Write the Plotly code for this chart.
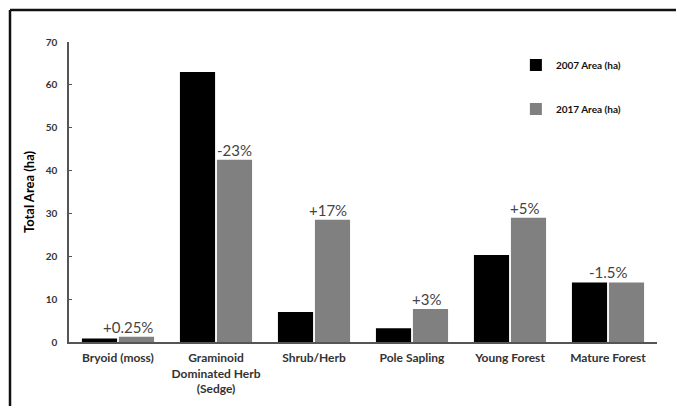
import plotly.graph_objects as go

categories = ["Bryoid (moss)", "Graminoid<br>Dominated Herb<br>(Sedge)", "Shrub/Herb",
              "Pole Sapling", "Young Forest", "Mature Forest"]
area_2007 = [0.8, 63.0, 7.0, 3.2, 20.3, 13.9]
area_2017 = [1.2, 42.5, 28.5, 7.7, 29.0, 13.9]
change_labels = ["+0.25%", "-23%", "+17%", "+3%", "+5%", "-1.5%"]
label_xshift = [10, 18, 14, 14, 14, 0]

FONT = "Lato"

fig = go.Figure()
fig.add_trace(go.Bar(x=categories, y=area_2007, name="2007 Area (ha)",
                     marker=dict(color="#000000", line=dict(width=0)),
                     legendgroup="a"))
fig.add_trace(go.Bar(x=categories, y=area_2017, name="2017 Area (ha)",
                     marker=dict(color="#808080", line=dict(width=0)),
                     legendgroup="b"))

for cat, v17, lab, xs in zip(categories, area_2017, change_labels, label_xshift):
    fig.add_annotation(x=cat, y=v17, text=lab, showarrow=False,
                       xref="x", yref="y", yanchor="bottom", xshift=xs, yshift=-1,
                       font=dict(family=FONT, size=15, color="#444444"))

fig.update_layout(
    width=676, height=406,
    margin=dict(l=69, r=19, t=42, b=64, autoexpand=False),
    paper_bgcolor="white", plot_bgcolor="white",
    barmode="group", bargap=0.245, bargroupgap=0.05,
    font=dict(family=FONT, color="#333333"),
    legend=dict(x=0.76, y=0.972, xanchor="left", yanchor="top",
                tracegroupgap=25, bgcolor="rgba(0,0,0,0)",
                font=dict(family=FONT, size=10, color="#111111", weight="bold")),
    xaxis=dict(showline=True, linecolor="#555555", linewidth=1.5, ticks="",
               tickfont=dict(family=FONT, size=12, color="#333333", weight="bold"),
               ticklabelstandoff=4, showgrid=False),
    yaxis=dict(range=[0, 70], dtick=10, showline=True, linecolor="#555555", linewidth=1.5,
               ticks="inside", ticklen=3, tickcolor="#555555", showgrid=False, zeroline=False,
               tickfont=dict(family=FONT, size=10, color="#333333", weight="bold"),
               ticklabelstandoff=8,
               title=dict(text="Total Area (ha)", standoff=8,
                          font=dict(family=FONT, size=13, color="#000000", weight="bold"))),
    shapes=[
        dict(type="line", xref="paper", yref="paper", x0=-59/588, x1=1.05, y0=1 + 32/300, y1=1 + 32/300,
             line=dict(color="#111111", width=2.5)),
        dict(type="line", xref="paper", yref="paper", x0=-59/588, x1=-59/588, y0=1 + 32/300, y1=-0.3,
             line=dict(color="#111111", width=2.5)),
    ],
)

fig.write_html("out.html")
